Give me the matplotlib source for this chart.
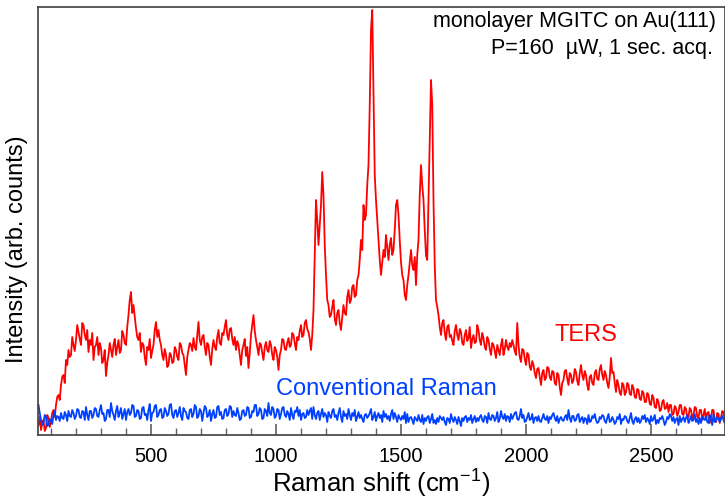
import numpy as np
import matplotlib
matplotlib.use("Agg")
import matplotlib.pyplot as plt

plt.rcParams['font.family'] = ['Liberation Sans', 'DejaVu Sans']
plt.rcParams['mathtext.fontset'] = 'custom'
plt.rcParams['mathtext.rm'] = 'Liberation Sans'

# Raman shift axis, 5 cm-1 steps from 50 to 2800
shift = np.arange(50, 2801, 5)

# TERS spectrum (arb. counts), one row per 100 cm-1
ters = [10, 18, 5, 12, 15, 4, 7, 20, 17, 8, 13, 22, 25, 18, 30, 38, 40, 35, 50, 58,
        60, 52, 75, 70, 85, 78, 80, 98, 90, 84, 95, 110, 103, 96, 90, 112, 110, 100, 95, 105,
        83, 95, 90, 102, 75, 88, 90, 98, 80, 92, 87, 72, 75, 85, 59, 72, 80, 92, 85, 78,
        90, 96, 80, 88, 95, 82, 85, 104, 100, 92, 90, 108, 120, 135, 143, 122, 130, 118, 107, 98,
        95, 102, 83, 92, 90, 78, 70, 88, 85, 96, 77, 84, 90, 105, 113, 98, 105, 95, 90, 80,
        75, 86, 80, 68, 70, 82, 80, 72, 73, 88, 85, 78, 75, 92, 90, 82, 80, 70, 60, 78,
        85, 92, 90, 84, 97, 88, 85, 100, 113, 95, 90, 98, 100, 88, 80, 92, 90, 78, 70, 86,
        95, 88, 85, 98, 105, 92, 90, 102, 100, 108, 115, 100, 95, 106, 107, 96, 90, 98, 85, 94,
        90, 80, 70, 85, 90, 96, 79, 88, 67, 82, 100, 110, 120, 104, 95, 88, 80, 92, 90, 82,
        75, 88, 93, 85, 83, 94, 90, 80, 75, 88, 85, 78, 65, 80, 85, 96, 95, 86, 85, 92,
        97, 88, 90, 102, 100, 92, 85, 98, 95, 104, 110, 98, 100, 112, 115, 106, 103, 96, 85, 100,
        125, 180, 235, 215, 190, 210, 230, 263, 240, 190, 160, 135, 130, 118, 120, 128, 135, 116, 110, 122,
        125, 112, 105, 118, 130, 122, 120, 138, 145, 132, 135, 148, 150, 138, 140, 155, 160, 175, 195, 185,
        230, 215, 220, 250, 270, 330, 405, 425, 342, 260, 235, 215, 195, 175, 160, 172, 185, 178, 200, 188,
        175, 190, 197, 180, 185, 205, 230, 235, 220, 195, 173, 160, 155, 140, 135, 150, 160, 172, 185, 170,
        165, 178, 150, 180, 195, 240, 270, 250, 235, 205, 180, 175, 235, 300, 355, 330, 235, 170, 135, 128,
        120, 108, 100, 112, 115, 102, 95, 108, 110, 98, 100, 94, 90, 104, 110, 100, 95, 106, 103, 92,
        90, 100, 105, 94, 97, 108, 87, 96, 100, 92, 93, 110, 105, 95, 90, 102, 97, 88, 85, 98,
        95, 86, 80, 92, 90, 84, 77, 90, 85, 80, 90, 96, 80, 86, 95, 88, 85, 92, 88, 95,
        90, 84, 80, 112, 90, 78, 73, 86, 85, 76, 70, 82, 80, 68, 65, 74, 70, 62, 57, 66,
        67, 58, 50, 62, 65, 55, 57, 68, 67, 58, 55, 64, 63, 52, 50, 62, 60, 48, 40, 52,
        55, 64, 65, 56, 50, 62, 60, 52, 55, 66, 63, 54, 50, 62, 70, 60, 55, 64, 60, 50,
        45, 58, 60, 52, 50, 62, 65, 56, 55, 66, 70, 60, 55, 64, 60, 52, 47, 58, 77, 62,
        63, 52, 43, 55, 50, 42, 40, 52, 50, 40, 43, 52, 50, 41, 40, 50, 47, 38, 37, 46,
        45, 36, 35, 44, 42, 33, 33, 42, 40, 31, 30, 40, 37, 28, 27, 36, 33, 24, 25, 33,
        35, 26, 27, 32, 23, 30, 30, 20, 21, 29, 27, 19, 23, 30, 30, 21, 20, 28, 26, 17,
        18, 27, 25, 16, 20, 28, 27, 18, 17, 25, 25, 15, 20, 26, 15, 22, 23, 12, 17, 25,
        25, 14, 13, 22, 21, 12, 17, 24, 23, 14, 19]

# conventional (far-field) Raman spectrum
raman = [30, 22, 15, 10, 12, 20, 18, 9, 10, 16, 14, 11, 20, 24, 15, 19, 18, 14, 22, 17,
         16, 23, 20, 14, 24, 19, 18, 25, 22, 16, 19, 26, 25, 18, 17, 24, 23, 15, 28, 20,
         15, 24, 24, 17, 20, 27, 26, 19, 18, 25, 30, 21, 22, 14, 16, 25, 25, 18, 32, 24,
         20, 15, 24, 29, 18, 22, 27, 16, 21, 26, 15, 23, 26, 20, 22, 30, 29, 18, 19, 25,
         24, 16, 17, 27, 28, 20, 21, 15, 25, 31, 14, 22, 23, 29, 30, 18, 20, 25, 26, 17,
         18, 27, 24, 19, 21, 30, 31, 20, 17, 24, 25, 18, 22, 28, 19, 15, 27, 24, 23, 17,
         16, 25, 26, 18, 21, 30, 28, 17, 19, 26, 24, 14, 22, 29, 27, 18, 20, 25, 14, 21,
         25, 17, 18, 28, 29, 20, 23, 16, 17, 25, 26, 19, 21, 29, 28, 18, 24, 20, 19, 27,
         22, 15, 16, 24, 25, 19, 20, 28, 27, 17, 18, 24, 23, 30, 30, 19, 21, 27, 25, 16,
         17, 26, 24, 19, 32, 22, 20, 28, 26, 17, 19, 26, 25, 16, 21, 27, 28, 20, 18, 24,
         21, 15, 27, 20, 16, 24, 23, 28, 19, 25, 15, 21, 22, 17, 18, 25, 20, 24, 27, 16,
         28, 20, 16, 22, 24, 15, 21, 26, 18, 22, 20, 13, 23, 19, 17, 24, 26, 18, 20, 15,
         22, 27, 18, 13, 24, 19, 21, 16, 26, 20, 15, 22, 19, 25, 14, 18, 23, 17, 20, 16,
         13, 20, 21, 17, 19, 22, 26, 15, 18, 23, 14, 19, 22, 17, 20, 13, 24, 18, 21, 16,
         19, 14, 21, 25, 16, 22, 18, 13, 20, 17, 15, 19, 16, 23, 12, 21, 13, 17, 18, 15,
         11, 18, 16, 14, 20, 15, 13, 20, 11, 17, 14, 18, 19, 12, 16, 21, 12, 15, 11, 17,
         13, 19, 17, 15, 18, 13, 10, 17, 16, 12, 21, 16, 13, 18, 15, 11, 18, 14, 9, 17,
         14, 18, 19, 13, 17, 15, 20, 12, 16, 19, 13, 17, 14, 18, 20, 15, 13, 19, 18, 12,
         22, 16, 15, 20, 19, 14, 17, 23, 13, 16, 24, 18, 16, 21, 14, 19, 18, 13, 21, 16,
         19, 22, 23, 16, 15, 19, 26, 17, 20, 13, 14, 18, 22, 15, 16, 21, 12, 17, 18, 14,
         19, 14, 13, 17, 21, 16, 15, 19, 12, 18, 16, 20, 22, 17, 14, 19, 12, 16, 18, 15,
         14, 18, 20, 15, 25, 17, 13, 19, 19, 14, 15, 20, 21, 13, 16, 18, 12, 17, 16, 11,
         20, 13, 14, 19, 17, 21, 15, 12, 13, 18, 16, 20, 19, 14, 12, 17, 21, 13, 14, 18,
         15, 11, 13, 18, 16, 21, 11, 16, 15, 19, 18, 14, 12, 17, 22, 14, 11, 16, 18, 13,
         17, 12, 14, 19, 16, 20, 13, 17, 15, 11, 19, 14, 16, 20, 11, 15, 12, 17, 16, 19,
         15, 10, 13, 18, 16, 21, 19, 14, 18, 12, 16, 17, 10, 19, 13, 16, 18, 13, 17, 20,
         12, 15, 19, 14, 15, 21, 13, 16, 11, 17, 12, 18, 16, 15, 19, 13, 12, 20, 16, 10,
         21, 13, 14, 18, 16, 13, 17, 19, 15, 12, 18]

fig = plt.figure(figsize=(7.25, 5), dpi=100)
ax = fig.add_axes([0.0524, 0.13, 0.9476, 0.856])

ax.plot(shift, ters, color='#ff0000', lw=1.3)
ax.plot(shift, raman, color='#0040ff', lw=1.3)

ax.set_xlim(48, 2796)
ax.set_ylim(0, 428)
ax.set_yticks([])
ax.set_xticks([500, 1000, 1500, 2000, 2500])
ax.set_xticks(np.arange(100, 2800, 100), minor=True)
ax.tick_params(axis='x', which='major', direction='in', length=8, width=1.2,
               color='#606060', labelsize=14.5, pad=9)
ax.tick_params(axis='x', which='minor', direction='in', length=5, width=1,
               color='#606060')
for s in ax.spines.values():
    s.set_color('#404040')
    s.set_linewidth(1.2)

ax.set_xlabel(r'Raman shift (cm$^{\mathregular{-1}}$)', fontsize=18.5, labelpad=0)
ax.set_ylabel('Intensity (arb. counts)', fontsize=17)
ax.yaxis.set_label_coords(-0.014, 0.435)

ax.text(0.987, 0.965, 'monolayer MGITC on Au(111)', transform=ax.transAxes,
        ha='right', va='center', fontsize=15.5)
ax.text(0.983, 0.904, 'P=160  µW, 1 sec. acq.', transform=ax.transAxes,
        ha='right', va='center', fontsize=15.5)
ax.text(2240, 100, 'TERS', color='#ff0000', fontsize=17, ha='center', va='center')
ax.text(1000, 46, 'Conventional Raman', color='#0040ff', fontsize=17,
        ha='left', va='center')

fig.savefig('out.png', dpi=100)
